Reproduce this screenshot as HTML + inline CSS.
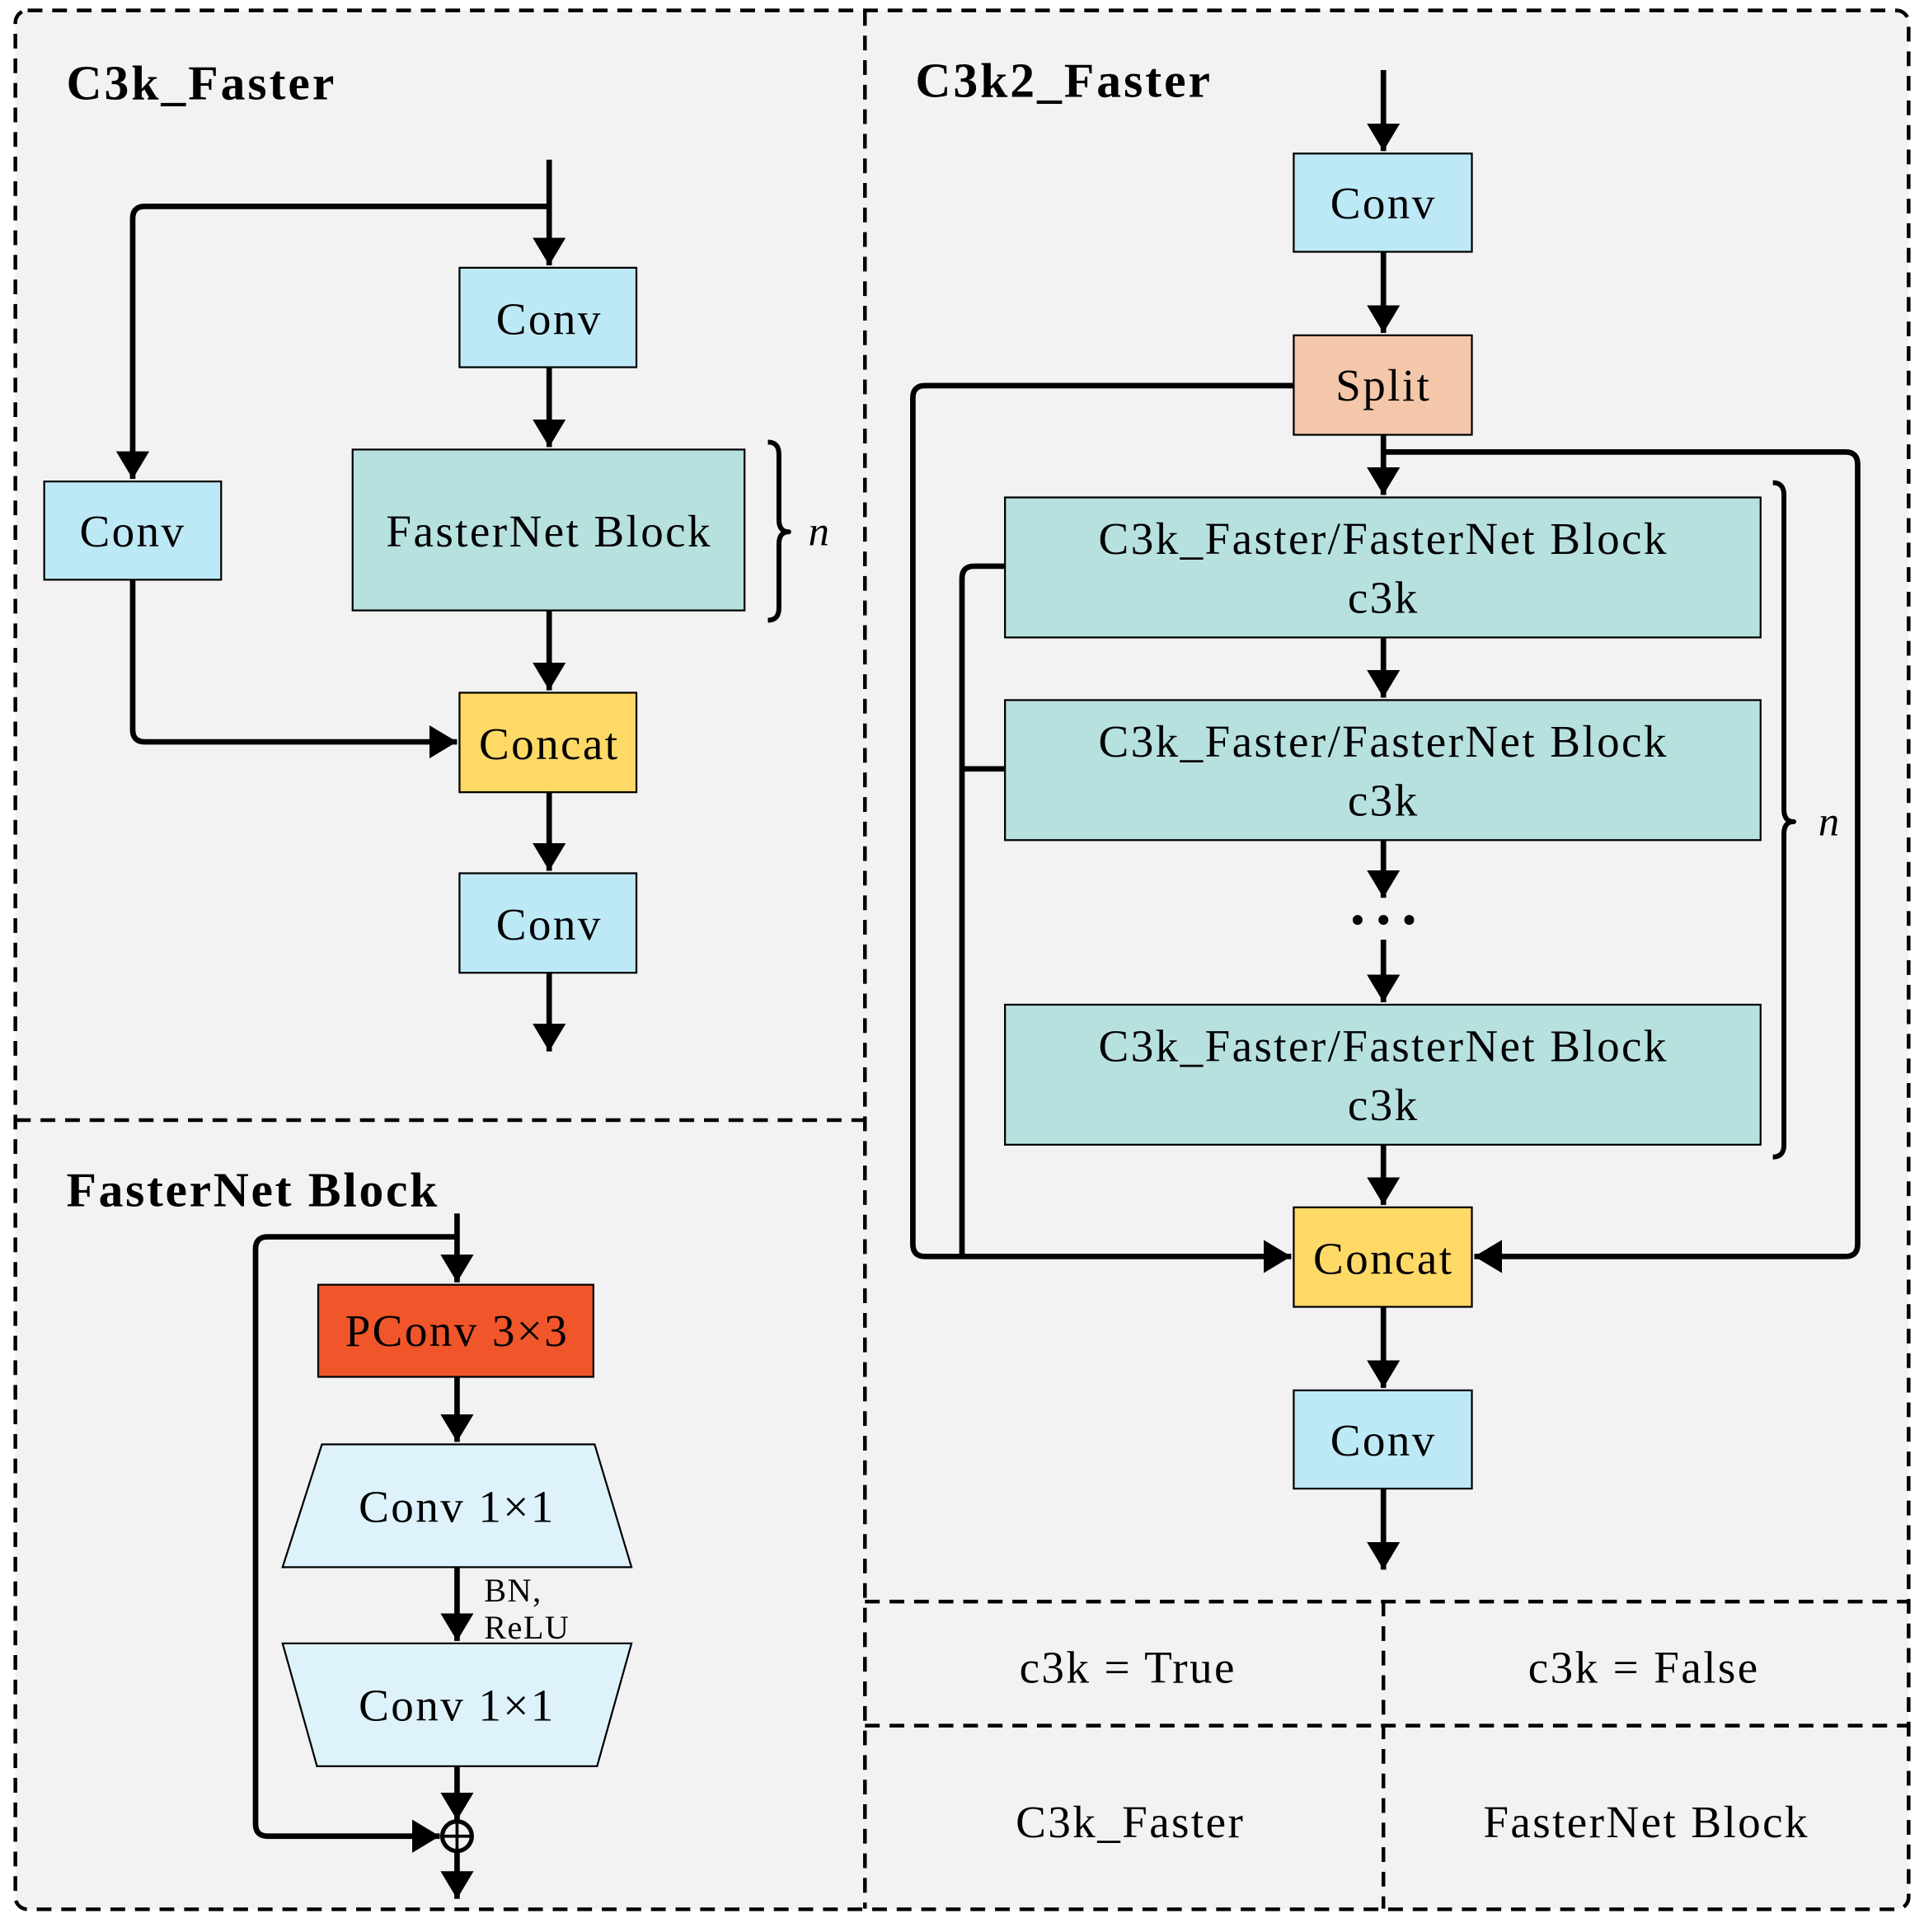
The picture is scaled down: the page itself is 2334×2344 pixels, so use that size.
<!DOCTYPE html>
<html><head><meta charset="utf-8"><style>
html,body{margin:0;padding:0;background:#fff}
svg{display:block}
text{font-family:"Liberation Serif",serif;fill:#000}
</style></head><body>
<svg width="2334" height="2344" viewBox="0 0 1566 1573" preserveAspectRatio="none" xmlns="http://www.w3.org/2000/svg">
<defs>
<marker id="a" markerWidth="6" markerHeight="6" refX="5" refY="3" orient="auto" markerUnits="strokeWidth"><path d="M0,0 L5,3 L0,6 Z" fill="#000"/></marker>
</defs>
<rect x="12.5" y="8.5" width="1541" height="1546" rx="10" fill="#f2f2f2" stroke="#000" stroke-width="3" stroke-dasharray="12,8"/>
<g stroke="#000" stroke-width="3" stroke-dasharray="12,8" fill="none">
<line x1="704" y1="9" x2="704" y2="1554"/>
<line x1="13" y1="912" x2="704" y2="912"/>
<line x1="704" y1="1304" x2="1553" y2="1304"/>
<line x1="704" y1="1405" x2="1553" y2="1405"/>
<line x1="1126" y1="1304" x2="1126" y2="1554"/>
</g>
<g font-weight="bold" font-size="40" letter-spacing="2">
<text x="54" y="81">C3k_Faster</text>
<text x="745" y="79">C3k2_Faster</text>
<text x="54" y="982" letter-spacing="1.8">FasterNet Block</text>
</g>
<g stroke="#000" stroke-width="4.5" fill="none" stroke-linejoin="round">
<line x1="447" y1="130" x2="447" y2="216" marker-end="url(#a)"/>
<path d="M447,168 H118 Q108,168 108,178 V390" marker-end="url(#a)"/>
<line x1="447" y1="299" x2="447" y2="364" marker-end="url(#a)"/>
<line x1="447" y1="497" x2="447" y2="562" marker-end="url(#a)"/>
<path d="M108,472 V594 Q108,604 118,604 H372" marker-end="url(#a)"/>
<line x1="447" y1="645" x2="447" y2="709" marker-end="url(#a)"/>
<line x1="447" y1="792" x2="447" y2="856" marker-end="url(#a)"/>
<path d="M625,360 Q634,360 634,370 V423 Q634,433 642,433 Q634,433 634,443 V495 Q634,505 625,505" stroke-width="4"/>
<line x1="372" y1="988" x2="372" y2="1044" marker-end="url(#a)"/>
<path d="M372,1007 H218 Q208,1007 208,1017 V1485 Q208,1495 218,1495 H358" marker-end="url(#a)"/>
<line x1="372" y1="1121" x2="372" y2="1174" marker-end="url(#a)"/>
<line x1="372" y1="1276" x2="372" y2="1336" marker-end="url(#a)"/>
<line x1="372" y1="1438" x2="372" y2="1482" marker-end="url(#a)"/>
<line x1="372" y1="1507" x2="372" y2="1546" marker-end="url(#a)"/>
<line x1="1126" y1="57" x2="1126" y2="123" marker-end="url(#a)"/>
<line x1="1126" y1="205" x2="1126" y2="271" marker-end="url(#a)"/>
<line x1="1126" y1="354" x2="1126" y2="403" marker-end="url(#a)"/>
<path d="M1053,314 H753 Q743,314 743,324 V1013 Q743,1023 753,1023 H1051" marker-end="url(#a)"/>
<path d="M1126,368 H1502 Q1512,368 1512,378 V1013 Q1512,1023 1502,1023 H1200" marker-end="url(#a)"/>
<path d="M818,461 H793 Q783,461 783,471 V1023"/>
<line x1="783" y1="626" x2="818" y2="626"/>
<line x1="1126" y1="519" x2="1126" y2="568" marker-end="url(#a)"/>
<line x1="1126" y1="684" x2="1126" y2="731" marker-end="url(#a)"/>
<line x1="1126" y1="765" x2="1126" y2="816" marker-end="url(#a)"/>
<line x1="1126" y1="932" x2="1126" y2="981" marker-end="url(#a)"/>
<line x1="1126" y1="1064" x2="1126" y2="1130" marker-end="url(#a)"/>
<line x1="1126" y1="1212" x2="1126" y2="1278" marker-end="url(#a)"/>
<path d="M1443,393 Q1452,393 1452,403 V659 Q1452,669 1460,669 Q1452,669 1452,679 V932 Q1452,942 1443,942" stroke-width="4"/>
</g>
<g fill="#000"><circle cx="1105" cy="749" r="4"/><circle cx="1126" cy="749" r="4"/><circle cx="1147" cy="749" r="4"/></g>
<g stroke="#000" stroke-width="1.5">
<rect x="374" y="218" width="144" height="81" fill="#bde9f7"/>
<rect x="36" y="392" width="144" height="80" fill="#bde9f7"/>
<rect x="287" y="366" width="319" height="131" fill="#b7e1df"/>
<rect x="374" y="564" width="144" height="81" fill="#ffd966"/>
<rect x="374" y="711" width="144" height="81" fill="#bde9f7"/>
<rect x="259" y="1046" width="224" height="75" fill="#f0562a"/>
<polygon points="262,1176 484,1176 514,1276 230,1276" fill="#ddf2fb"/>
<polygon points="230,1338 514,1338 486,1438 258,1438" fill="#ddf2fb"/>
<rect x="1053" y="125" width="145" height="80" fill="#bde9f7"/>
<rect x="1053" y="273" width="145" height="81" fill="#f4c6aa"/>
<rect x="818" y="405" width="615" height="114" fill="#b7e1df"/>
<rect x="818" y="570" width="615" height="114" fill="#b7e1df"/>
<rect x="818" y="818" width="615" height="114" fill="#b7e1df"/>
<rect x="1053" y="983" width="145" height="81" fill="#ffd966"/>
<rect x="1053" y="1132" width="145" height="80" fill="#bde9f7"/>
</g>
<circle cx="372" cy="1495" r="12" fill="none" stroke="#000" stroke-width="3.5"/>
<line x1="360" y1="1495" x2="384" y2="1495" stroke="#000" stroke-width="2.5"/>
<line x1="372" y1="1483" x2="372" y2="1507" stroke="#000" stroke-width="2.5"/>
<g font-size="37" text-anchor="middle" letter-spacing="1.6">
<text x="447" y="272">Conv</text>
<text x="108" y="445">Conv</text>
<text x="447" y="445">FasterNet Block</text>
<text x="447" y="618">Concat</text>
<text x="447" y="765">Conv</text>
<text x="372" y="1096">PConv 3×3</text>
<text x="372" y="1239">Conv 1×1</text>
<text x="372" y="1401">Conv 1×1</text>
<text x="1126" y="178">Conv</text>
<text x="1126" y="326">Split</text>
<text x="1126" y="451">C3k_Faster/FasterNet Block</text>
<text x="1126" y="499">c3k</text>
<text x="1126" y="616">C3k_Faster/FasterNet Block</text>
<text x="1126" y="664">c3k</text>
<text x="1126" y="864">C3k_Faster/FasterNet Block</text>
<text x="1126" y="912">c3k</text>
<text x="1126" y="1037">Concat</text>
<text x="1126" y="1185">Conv</text>
<text x="918" y="1370">c3k = True</text>
<text x="1338" y="1370">c3k = False</text>
<text x="920" y="1496">C3k_Faster</text>
<text x="1340" y="1496">FasterNet Block</text>
</g>
<g font-size="34" font-style="italic">
<text x="658" y="444">n</text>
<text x="1480" y="680">n</text>
</g>
<g font-size="27" letter-spacing="1">
<text x="394" y="1304">BN,</text>
<text x="394" y="1334">ReLU</text>
</g>
</svg>
</body></html>
